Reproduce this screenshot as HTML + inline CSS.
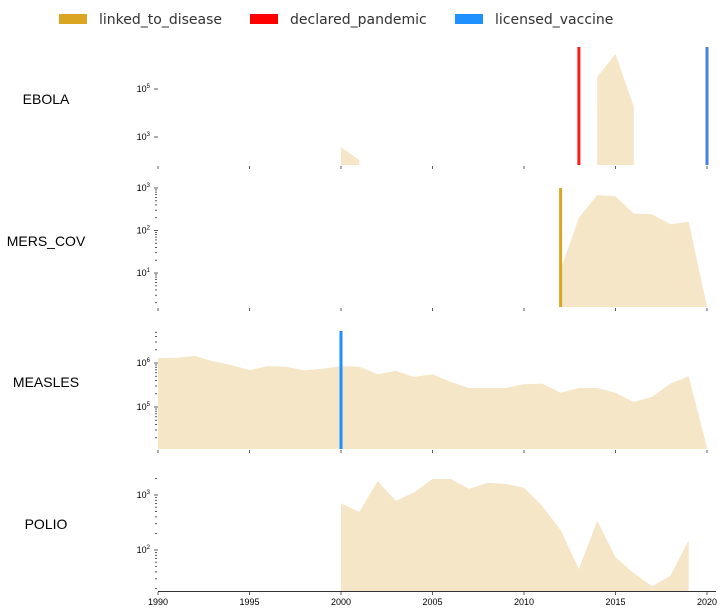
<!DOCTYPE html>
<html><head><meta charset="utf-8"><style>
body{margin:0;background:#fff;}
svg{display:block;font-family:"Liberation Sans",sans-serif;}
</style></head><body>
<svg id="c" width="725" height="615"></svg>
<script>
const years = [];
for (let y = 1990; y <= 2020; y++) years.push(y);
const ebolaYears = [2000, 2001, 2014, 2015, 2016];
const ebolaVals = [380, 110, 316000, 2900000, 17800];
const mersYears = [2012, 2013, 2014, 2015, 2016, 2017, 2018, 2019, 2020];
const mersVals = [12, 200, 680, 640, 250, 240, 140, 160, 1.6];
const measlesYears = years;
const measlesVals = [1290000,1320000,1440000,1100000,900000,690000,850000,820000,680000,740000,850000,820000,560000,660000,480000,560000,370000,270000,270000,270000,330000,340000,210000,270000,270000,210000,130000,170000,340000,500000,12000];
const polioYears = [2000,2001,2002,2003,2004,2005,2006,2007,2008,2009,2010,2011,2012,2013,2014,2015,2016,2017,2018,2019];
const polioVals = [710,490,1780,780,1120,1950,1950,1290,1660,1600,1350,630,230,45,340,74,38,22,34,150];
const tickYears = [1990, 1995, 2000, 2005, 2010, 2015, 2020];

const panels = [
  {name:'EBOLA', key:'ebola', top:47, bottom:165, ya:89, va:5, yb:137, vb:3, majors:[3,5], minor:false, xs:ebolaYears, vs:ebolaVals, segs:[[0,1],[2,4]],
   lines:[{year:2013,color:'#ff1a1a',n:'declared-pandemic-line'},{year:2020,color:'#4a7fdb',n:'licensed-vaccine-line'}], labelY:99},
  {name:'MERS_COV', key:'mers', top:188, bottom:307, ya:188, va:3, yb:273, vb:1, majors:[1,2,3], minor:true, xs:mersYears, vs:mersVals, segs:[[0,8]],
   lines:[{year:2012,color:'#daa520',n:'linked-to-disease-line'}], labelY:241},
  {name:'MEASLES', key:'measles', top:331, bottom:449, ya:363, va:6, yb:407, vb:5, majors:[5,6], minor:true, xs:measlesYears, vs:measlesVals, segs:[[0,30]],
   lines:[{year:2000,color:'#1e90ff',n:'licensed-vaccine-line'}], labelY:382},
  {name:'POLIO', key:'polio', top:477, bottom:591, ya:495, va:3, yb:550, vb:2, majors:[2,3], minor:true, xs:polioYears, vs:polioVals, segs:[[0,19]],
   lines:[], labelY:524}
];
const NS='http://www.w3.org/2000/svg';
const svg=document.getElementById('c');
function el(tag,attrs,parent){const e=document.createElementNS(NS,tag);for(const k in attrs)e.setAttribute(k,attrs[k]);(parent||svg).appendChild(e);return e;}
function xScale(y){return 158+(y-1990)*(707-158)/30;}

// legend
const legend=[['linked_to_disease','#daa520',59],['declared_pandemic','#ff0000',250],['licensed_vaccine','#1e90ff',455]];
legend.forEach(l=>{
  const g=el('g',{});
  
  
  el('rect',{x:l[2],y:14,width:28,height:10,fill:l[1]},g);
  const t=el('text',{x:l[2]+40,y:24,'font-size':14,fill:'#333','font-family':'DejaVu Sans, sans-serif'},g);
  t.textContent=l[0];
});

panels.forEach((p,pi)=>{
  const g=el('g',{});
  
  
  const pxPerDec=(p.yb-p.ya)/(p.va-p.vb);
  const yS=v=>p.ya+(p.va-Math.log10(v))*pxPerDec;
  // label
  const lab=el('text',{x:46,y:p.labelY+5,'font-size':14,'text-anchor':'middle',fill:'#000'},g);
  
  
  lab.textContent=p.name;
  // areas
  p.segs.forEach(s=>{
    let d='M'+xScale(p.xs[s[0]])+','+p.bottom;
    for(let i=s[0];i<=s[1];i++){d+=' L'+xScale(p.xs[i]).toFixed(1)+','+Math.min(p.bottom,yS(p.vs[i])).toFixed(1);}
    d+=' L'+xScale(p.xs[s[1]])+','+p.bottom+' Z';
    const a=el('path',{d:d,fill:'#f5e6c8'},g);
    
    
  });
  // event lines
  p.lines.forEach(l=>{
    const ln=el('line',{x1:xScale(l.year),x2:xScale(l.year),y1:p.top,y2:p.bottom,stroke:l.color,'stroke-width':3},g);
    
    
  });
  // y ticks
  const lo=Math.log10(10**(p.va-(p.bottom-p.ya)/pxPerDec)), hi=p.va+(p.ya-p.top)/pxPerDec;
  if(p.minor){
    for(let d=Math.floor(lo);d<=Math.ceil(hi);d++){for(let m=2;m<=9;m++){const v=Math.log10(m)+d;if(v<lo||v>hi)continue;
      el('line',{x1:155,x2:157,y1:yS(10**v),y2:yS(10**v),stroke:'#333','stroke-width':0.8},g);}}
  }
  p.majors.forEach(m=>{
    const y=yS(10**m);
    el('line',{x1:154,x2:158,y1:y,y2:y,stroke:'#333','stroke-width':0.8},g);
    const t=el('text',{x:150,y:y+3,'font-size':9,'text-anchor':'end',fill:'#000'},g);
    
    
    t.innerHTML='10<tspan dy="-4" font-size="6">'+m+'</tspan>';
  });
  // x ticks
  tickYears.forEach(ty=>{
    el('line',{x1:xScale(ty),x2:xScale(ty),y1:p.bottom+1,y2:p.bottom+4,stroke:'#333','stroke-width':0.8},g);
    if(pi===3){
      const t=el('text',{x:xScale(ty),y:p.bottom+14,'font-size':9,'text-anchor':'middle',fill:'#000'},g);
      
      
      t.textContent=ty;
    }
  });
  if(pi===3){
    const ax=el('line',{x1:158,x2:716,y1:p.bottom+0.5,y2:p.bottom+0.5,stroke:'#333','stroke-width':1},g);
    
    
  }
});
</script>
</body></html>
